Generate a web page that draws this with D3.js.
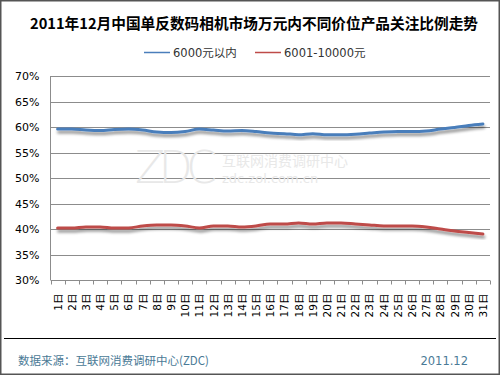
<!DOCTYPE html>
<html>
<head>
<meta charset="utf-8">
<script src="https://cdn.jsdelivr.net/npm/d3@7"></script>
<style>
  body { margin: 0; background: #fff; }
  svg { display: block; font-family: "DejaVu Sans", "Noto Sans CJK SC", sans-serif; }
</style>
</head>
<body>
<svg id="chart" width="500" height="375"></svg>
<script>
// 日期
const days = d3.range(1, 32).map(d => d + "日");
// 6000元以内
const seriesLow = [59.6, 59.6, 59.4, 59.3, 59.5, 59.6, 59.4, 59.0, 58.9, 59.1, 59.6, 59.4, 59.2, 59.3, 59.1, 58.8,
  58.7, 58.5, 58.7, 58.5, 58.5, 58.6, 58.8, 59.0, 59.1, 59.1, 59.2, 59.6, 59.9, 60.3, 60.6];
// 6001-10000元
const seriesHigh = [40.2, 40.2, 40.4, 40.4, 40.2, 40.2, 40.6, 40.8, 40.8, 40.6, 40.2, 40.6, 40.6, 40.4, 40.6, 41.0,
  41.0, 41.2, 41.0, 41.2, 41.2, 41.0, 40.8, 40.6, 40.6, 40.6, 40.4, 40.0, 39.6, 39.3, 39.0];
const seriesNames = ["6000元以内", "6001-10000元"];
const seriesColors = ["#4a7ebb", "#be4b48"];
const yTicks = [30, 35, 40, 45, 50, 55, 60, 65, 70];

const svg = d3.select("#chart");
const W = 500, H = 375;
const plotL = 50.5, plotR = 490, plotT = 76, plotB = 280;

// 外框
svg.append("rect").attr("x", 0.5).attr("y", 0.5).attr("width", W - 1).attr("height", H - 1)
  .attr("fill", "#fff").attr("stroke", "#555").attr("stroke-width", 2);

// 阴影滤镜
const defs = svg.append("defs");
const f = defs.append("filter").attr("id", "shadow").attr("x", "-5%").attr("y", "-50%")
  .attr("width", "110%").attr("height", "200%");
f.append("feGaussianBlur").attr("in", "SourceAlpha").attr("stdDeviation", 1.6).attr("result", "b");
f.append("feOffset").attr("in", "b").attr("dx", 1).attr("dy", 3).attr("result", "o");
f.append("feComponentTransfer").attr("in", "o").attr("result", "o2")
  .append("feFuncA").attr("type", "linear").attr("slope", 0.45);
const merge = f.append("feMerge");
merge.append("feMergeNode").attr("in", "o2");
merge.append("feMergeNode").attr("in", "SourceGraphic");

// 标题
svg.append("text").attr("x", 30).attr("y", 29)
  .attr("font-size", 15).attr("font-weight", "bold").attr("fill", "#000")
  .attr("font-family", "'Noto Sans CJK SC', sans-serif")
  .attr("textLength", 448).attr("lengthAdjust", "spacingAndGlyphs")
  .text("2011年12月中国单反数码相机市场万元内不同价位产品关注比例走势");

// 比例尺
const x = d3.scaleBand().domain(days).range([plotL, plotR]);
const y = d3.scaleLinear().domain([30, 70]).range([plotB, plotT]);

// 网格线
svg.append("g").selectAll("line").data(yTicks.filter(d => d > 30)).enter().append("line")
  .attr("x1", plotL).attr("x2", plotR)
  .attr("y1", d => Math.round(y(d)) + 0.5).attr("y2", d => Math.round(y(d)) + 0.5)
  .attr("stroke", "#8c8c8c").attr("stroke-width", 1);

// 水印
const wm = svg.append("g").attr("fill", "#e8e8e8");
wm.append("text").attr("x", 135).attr("y", 183).attr("font-size", 44)
  .attr("font-family", "'DejaVu Sans', sans-serif").attr("font-weight", "200")
  .attr("textLength", 82).text("ZDC");
wm.append("text").attr("x", 222).attr("y", 166).attr("font-size", 14)
  .attr("font-family", "'Noto Sans CJK SC', sans-serif").text("互联网消费调研中心");
wm.append("text").attr("x", 222).attr("y", 183).attr("font-size", 13).text("zdc.zol.com.cn");

// Y轴
const yAxis = svg.append("g").attr("transform", `translate(${plotL},0)`)
  .call(d3.axisLeft(y).tickValues(yTicks).tickSize(0).tickPadding(11).tickFormat(d => d + "%"));
yAxis.select(".domain").remove();
yAxis.selectAll("text").attr("font-size", 11).attr("fill", "#000")
  .attr("font-family", "'DejaVu Sans', sans-serif");
svg.append("line").attr("x1", plotL).attr("x2", plotL).attr("y1", plotT).attr("y2", plotB)
  .attr("stroke", "#8c8c8c");

// X轴
const xAxis = svg.append("g").attr("transform", `translate(0,${plotB + 0.5})`);
xAxis.append("line").attr("x1", plotL).attr("x2", plotR).attr("stroke", "#8c8c8c");
xAxis.selectAll("line.tk").data(d3.range(days.length + 1)).enter().append("line")
  .attr("class", "tk")
  .attr("x1", i => Math.round(plotL + i * x.step()) + 0.5)
  .attr("x2", i => Math.round(plotL + i * x.step()) + 0.5)
  .attr("y1", 0).attr("y2", 4).attr("stroke", "#8c8c8c");
xAxis.selectAll("text").data(days).enter().append("text")
  .attr("transform", d => `translate(${x(d) + x.bandwidth() / 2 + 4},13) rotate(-90)`)
  .attr("text-anchor", "end").attr("font-size", 10.5).attr("fill", "#000")
  .attr("font-family", "'DejaVu Sans', 'Noto Sans CJK SC', sans-serif")
  .text(d => d);

// 折线
const line = d3.line()
  .x((d, i) => x(days[i]) + x.bandwidth() / 2)
  .y(d => y(d))
  .curve(d3.curveMonotoneX);
[seriesLow, seriesHigh].forEach((s, k) => {
  svg.append("path").datum(s).attr("d", line).attr("fill", "none")
    .attr("stroke", seriesColors[k]).attr("stroke-width", 3)
    .attr("stroke-linecap", "round").attr("filter", "url(#shadow)");
});

// 图例
const legend = svg.append("g");
const legendX = [144, 255];
seriesNames.forEach((n, k) => {
  legend.append("line").attr("x1", legendX[k]).attr("x2", legendX[k] + 26)
    .attr("y1", 52.5).attr("y2", 52.5).attr("stroke", seriesColors[k]).attr("stroke-width", 1.5);
  legend.append("text").attr("x", legendX[k] + 29).attr("y", 57).attr("font-size", 11.5)
    .attr("fill", "#333").attr("font-family", "'DejaVu Sans', 'Noto Sans CJK SC', sans-serif").text(n);
});

// 底部
svg.append("line").attr("x1", 4).attr("x2", 496).attr("y1", 338.5).attr("y2", 338.5)
  .attr("stroke", "#000").attr("stroke-width", 1);
svg.append("text").attr("x", 18).attr("y", 365).attr("font-size", 11.5).attr("fill", "#4a7a96")
  .attr("font-family", "'Noto Sans CJK SC', sans-serif").text("数据来源：互联网消费调研中心(ZDC)");
svg.append("text").attr("x", 468).attr("y", 365).attr("text-anchor", "end").attr("font-size", 11.5)
  .attr("fill", "#4a7a96").attr("font-family", "'DejaVu Sans', sans-serif").text("2011.12");
</script>
</body>
</html>
